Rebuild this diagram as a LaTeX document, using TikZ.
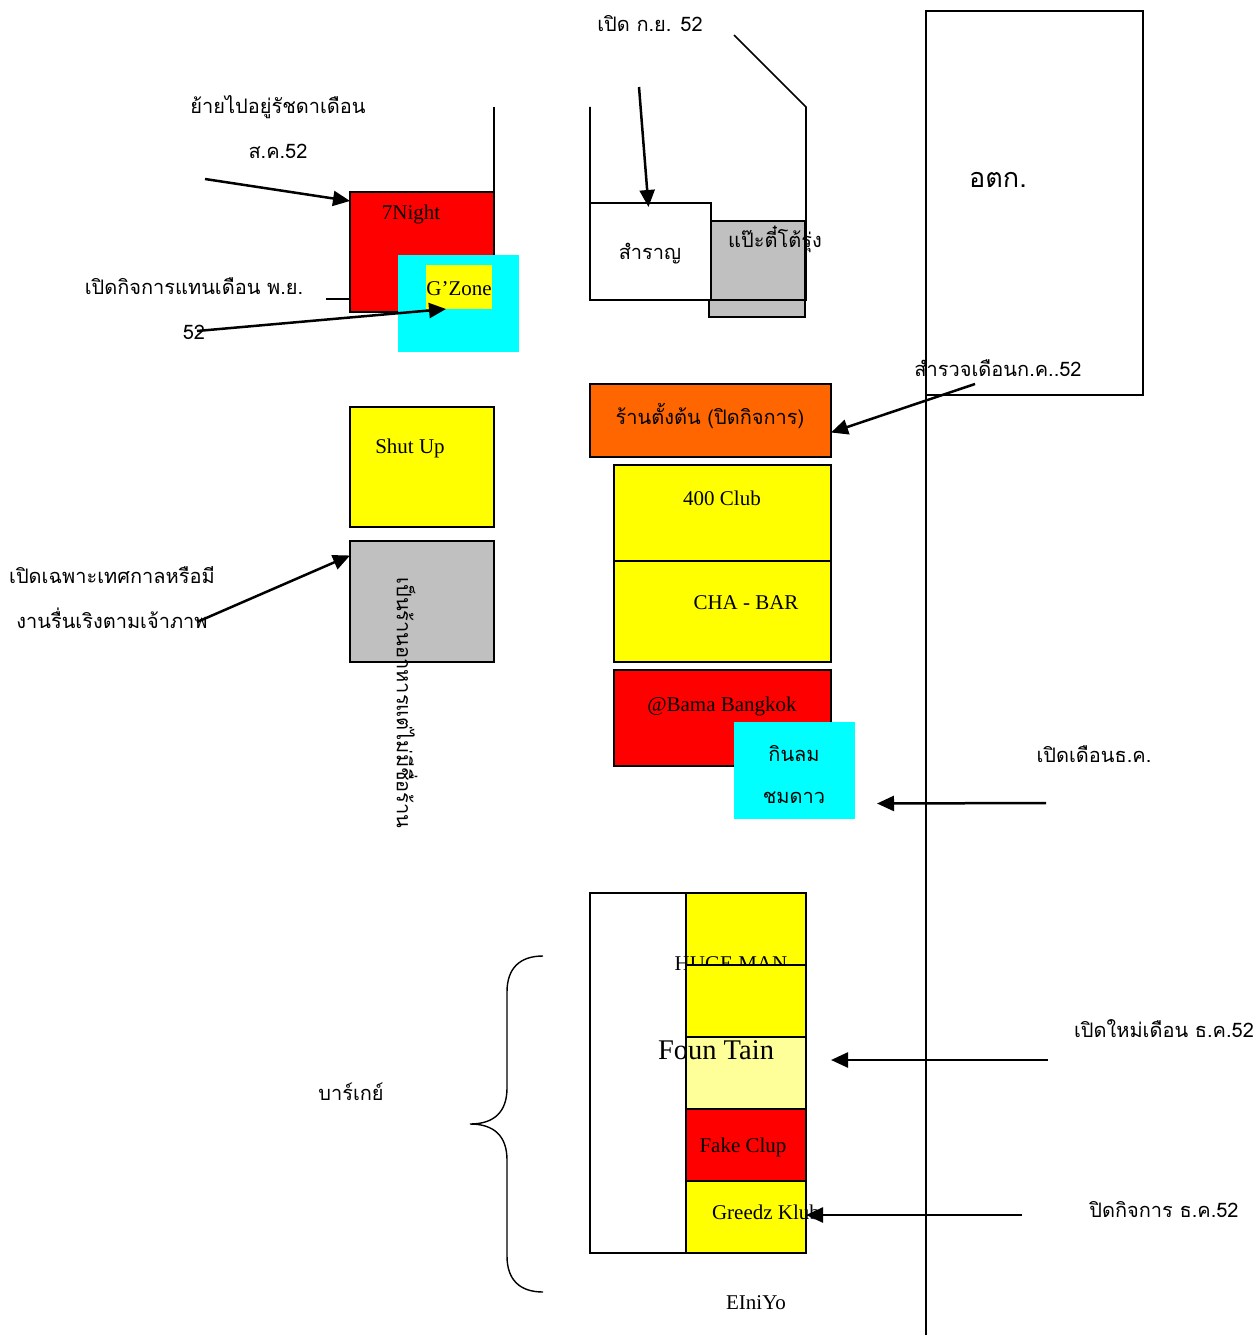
\documentclass[tikz,border=0pt]{standalone}
\usepackage{fontspec}
\setmainfont{Liberation Serif}
\newfontfamily\thaifont[Script=Thai]{Loma}
\usetikzlibrary{arrows.meta,positioning,calc}
\definecolor{shopred}{RGB}{255,0,0}
\definecolor{shopyellow}{RGB}{255,255,0}
\definecolor{paleyellow}{RGB}{255,255,153}
\definecolor{shopcyan}{RGB}{0,255,255}
\definecolor{shopgray}{RGB}{192,192,192}
\definecolor{shoporange}{RGB}{255,102,0}
\tikzset{
	shop/.style={draw,line width=1.6pt,inner sep=0pt,outer sep=0pt,anchor=north west},
	patch/.style={inner sep=0pt,outer sep=0pt,anchor=north west},
	road/.style={line width=1.6pt},
	pointer/.style={line width=2.5pt,-{Triangle[length=17pt,width=15pt]}},
	latin/.style={inner sep=0pt,font=\fontsize{21}{24}\selectfont},
	thai/.style={inner sep=0pt,font=\thaifont\fontsize{20}{23}\selectfont},
}
\begin{document}
\begin{tikzpicture}[x=1pt,y=-1pt]
	
	\useasboundingbox (0,0) rectangle (1257,1335);
	
	\draw[road] (494,107)--(494,299)--(326,299);
	
	\node[shop,fill=shopred,minimum width=144pt,minimum height=120pt] at (350,192)
	(nightbox) {};
	\node[patch,fill=shopcyan,minimum width=121pt,minimum height=97pt] at (398,255)
	(zonecyan) {};
	\node[patch,fill=shopyellow,minimum width=66pt,minimum height=44pt] at (426,265)
	(zonebox) {};
	
	\node[shop,fill=shopgray,minimum width=96pt,minimum height=96pt] at (709,221)
	(patebox) {};
	\node[shop,fill=white,minimum width=121pt,minimum height=97pt] at (590,203)
	(samranbox) {};
	\draw[road] (590,107)--(590,300)--(806,300)--(806,107)--(734,35);
	
	\node[shop,fill=white,minimum width=217pt,minimum height=384pt] at (926,11)
	(marketbox) {};
	\draw[road] (926,88)--(926,1335);
	
	\node[shop,fill=shoporange,minimum width=241pt,minimum height=73pt] at (590,384)
	(oldbox) {};
	\node[shop,fill=shopyellow,minimum width=144pt,minimum height=120pt] at (350,407)
	(shutbox) {};
	\node[shop,fill=shopgray,minimum width=144pt,minimum height=121pt] at (350,541)
	(foodbox) {};
	
	\node[shop,fill=shopyellow,minimum width=217pt,minimum height=121pt] at (614,541)
	(chabox) {};
	\node[shop,fill=shopyellow,minimum width=217pt,minimum height=96pt] at (614,465)
	(clubbox) {};
	\node[shop,fill=shopred,minimum width=217pt,minimum height=96pt] at (614,670)
	(bamabox) {};
	\node[patch,fill=shopcyan,minimum width=121pt,minimum height=97pt] at (734,722)
	(windbox) {};
	
	\node[shop,fill=white,minimum width=216pt,minimum height=360pt] at (590,893)
	(gayblock) {};
	\node[shop,fill=shopyellow,minimum width=120pt,minimum height=72pt] at (686,893)
	(hugebox) {};
	\node[latin] at (731,964)
	(hugelabel) {HUGE MAN};
	\node[shop,fill=shopyellow,minimum width=120pt,minimum height=72pt] at (686,965)
	(blankbox) {};
	\node[shop,fill=paleyellow,minimum width=120pt,minimum height=72pt] at (686,1037)
	(fountbox) {};
	\node[shop,fill=shopred,minimum width=120pt,minimum height=72pt] at (686,1109)
	(fakebox) {};
	\node[shop,fill=shopyellow,minimum width=120pt,minimum height=72pt] at (686,1181)
	(greedbox) {};
	
	\draw[line width=1.4pt]
	(543,956) .. controls (520,956) and (507,968) .. (507,992)
	-- (507,1088) .. controls (507,1112) and (494,1124) .. (470,1124)
	.. controls (494,1124) and (507,1136) .. (507,1160)
	-- (507,1256) .. controls (507,1280) and (520,1292) .. (543,1292);
	
	\node[latin] at (411,214) (nightlabel) {7Night};
	\node[latin] at (459,289) (zonelabel) {G’Zone};
	\node[latin] at (410,448) (shutlabel) {Shut Up};
	\node[latin] at (722,498) (clublabel) {400 Club};
	\node[latin] at (746,603) (chalabel) {CHA - BAR};
	\node[latin] at (722,706) (bamalabel) {@Bama Bangkok};
	\node[latin,font=\fontsize{28.5}{31}\selectfont] at (716,1050) (fountlabel) {Foun Tain};
	\node[latin] at (743,1147) (fakelabel) {Fake Clup};
	\node[latin] at (766,1212) (greedlabel) {Greedz Klub};
	\node[latin] at (756,1303) (namelabel) {EIniYo};
	
	\node[thai] at (278,107) (movelabel) {ย้ายไปอยู่รัชดาเดือน};
	\node[thai] at (278,151) (movedate) {ส.ค.52};
	\node[thai] at (194,286) (replacelabel) {เปิดกิจการแทนเดือน พ.ย.};
	\node[thai] at (194,332) (replacedate) {52};
	\node[thai] at (650,24) (openlabel) {เปิด ก.ย. 52};
	\node[thai] at (650,254) (samranlabel) {สำราญ};
	\node[thai] at (775,239) (patelabel) {แป๊ะตี๋โต้รุ่ง};
	\node[thai,font=\thaifont\fontsize{27}{30}\selectfont] at (998,180) (marketlabel) {อตก.};
	\node[thai] at (998,368) (surveylabel) {สำรวจเดือนก.ค..52};
	\node[thai] at (710,416) (oldlabel) {ร้านตั้งต้น (ปิดกิจการ)};
	\node[thai] at (112,575) (festlabel) {เปิดเฉพาะเทศกาลหรือมี};
	\node[thai] at (112,618) (festmore) {งานรื่นเริงตามเจ้าภาพ};
	\node[thai,rotate=-90] at (407,703) (foodlabel) {เป็นร้านอาหารแต่ไม่มีชื่อร้าน};
	\node[thai] at (794,754) (windlabel) {กินลม};
	\node[thai] at (794,798) (starlabel) {ชมดาว};
	\node[thai] at (1094,754) (declabel) {เปิดเดือนธ.ค.};
	\node[thai] at (1164,1029) (newlabel) {เปิดใหม่เดือน ธ.ค.52};
	\node[thai] at (1164,1210) (closelabel) {ปิดกิจการ ธ.ค.52};
	\node[thai] at (351,1092) (gaylabel) {บาร์เกย์};
	
	\coordinate (movefrom) at (205,179);
	\coordinate (replacefrom) at (197,331);
	\coordinate (openfrom) at (639,87);
	\coordinate (surveyfrom) at (975,384);
	\coordinate (festfrom) at (197,622);
	\coordinate (decfrom) at (1046,803);
	\coordinate (newfrom) at (1048,1060);
	\coordinate (closefrom) at (1022,1215);
	
	\draw[pointer] (movefrom)--([yshift=51pt]nightbox.west);
	\draw[pointer] (replacefrom)--([xshift=-13pt]zonebox.south);
	\draw[pointer] (openfrom)--([xshift=-2pt,yshift=-4pt]samranbox.north);
	\draw[pointer] (surveyfrom)--([yshift=-12pt]oldbox.east);
	\draw[pointer] (festfrom)--([yshift=46pt]foodbox.west);
	\draw[pointer] (decfrom)--([xshift=22pt,yshift=-33pt]windbox.east);
	\draw[pointer] (newfrom)--([xshift=25pt,yshift=13pt]fountbox.east);
	\draw[pointer] (closefrom)--([yshift=2pt]greedbox.east);
	
\end{tikzpicture}
\end{document}
